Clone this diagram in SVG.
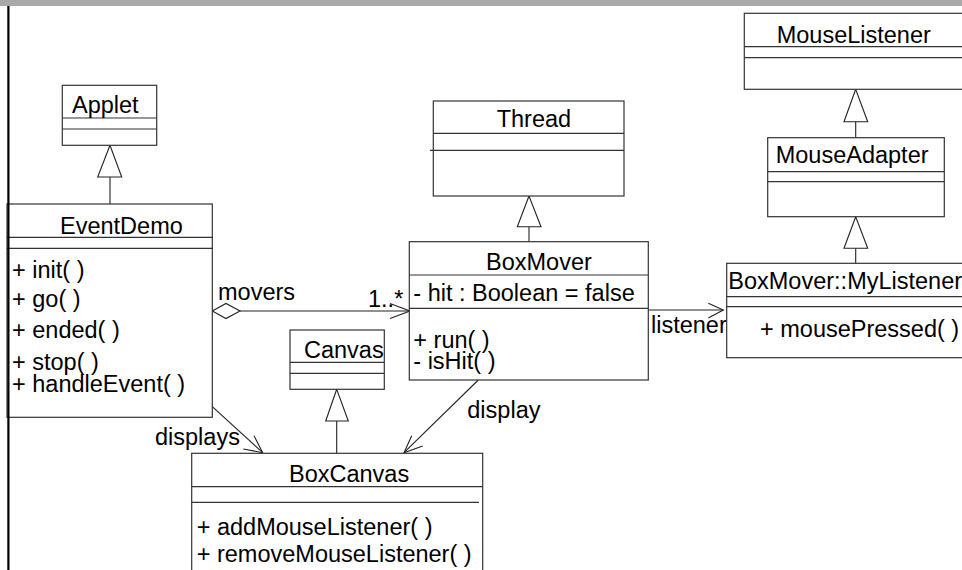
<svg xmlns="http://www.w3.org/2000/svg" width="962" height="570" viewBox="0 0 962 570">
<style>
.box{fill:#fff;stroke:#333;stroke-width:1.2}
.div{stroke:#333;stroke-width:1.2}
.t{font-family:"Liberation Sans",Arial,sans-serif;font-size:23.5px;fill:#000}
.ln{stroke:#222;stroke-width:1.1;fill:none}
.tri{fill:#fff;stroke:#222;stroke-width:1.1}
</style>
<rect x="0" y="0" width="962" height="570" fill="#fff"/>
<rect x="0" y="0" width="962" height="6" fill="#a9a9a9"/>

<g id="connectors">
  <!-- Applet <- EventDemo -->
  <line class="ln" x1="110" y1="177" x2="110" y2="204"/>
  <polygon class="tri" points="110,145.3 97.7,177 121.7,177"/>
  <!-- Thread <- BoxMover -->
  <line class="ln" x1="529" y1="226.7" x2="529" y2="241.7"/>
  <polygon class="tri" points="529,196 517.3,226.7 541,226.7"/>
  <!-- MouseListener <- MouseAdapter -->
  <line class="ln" x1="855.7" y1="121.7" x2="855.7" y2="137.7"/>
  <polygon class="tri" points="855.7,89.3 844,121.7 867.7,121.7"/>
  <!-- MouseAdapter <- MyListener -->
  <line class="ln" x1="855.7" y1="248.3" x2="855.7" y2="263.3"/>
  <polygon class="tri" points="855.7,216.7 844,248.3 867.7,248.3"/>
  <!-- Canvas <- BoxCanvas -->
  <line class="ln" x1="336.7" y1="421" x2="336.7" y2="453.3"/>
  <polygon class="tri" points="336.7,389.3 325.7,421 348.3,421"/>
  <!-- movers aggregation -->
  <line class="ln" x1="240" y1="311" x2="410" y2="311"/>
  <polygon class="tri" points="212.3,311 226,303.5 240,311 226,318.5"/>
  <polyline class="ln" points="390,303.5 410,311 390,318.5"/>
  <text class="t" x="218" y="300">movers</text>
  <text class="t" x="368" y="306.5">1..*</text>
  <!-- listener -->
  <line class="ln" x1="648.3" y1="310" x2="723.3" y2="310"/>
  <polyline class="ln" points="708.3,303.3 723.3,310 708.3,318"/>
  <text class="t" x="651" y="333.3">listener</text>
  <!-- displays -->
  <line class="ln" x1="212.3" y1="406.7" x2="262.7" y2="452.7"/>
  <polyline class="ln" points="243.3,449 262.7,452.7 254,435.7"/>
  <text class="t" x="155" y="445">displays</text>
  <!-- display -->
  <line class="ln" x1="478.3" y1="380" x2="404" y2="452.7"/>
  <polyline class="ln" points="422.7,446 404,452.7 411.7,435.7"/>
  <text class="t" x="467.3" y="418.3">display</text>
</g>

<g id="Applet">
  <rect class="box" x="62.3" y="85.3" width="94.4" height="60"/>
  <line class="div" x1="62.3" y1="118" x2="156.7" y2="118"/>
  <line class="div" x1="62.3" y1="129" x2="156.7" y2="129"/>
  <text class="t" x="72" y="113">Applet</text>
</g>

<g id="EventDemo">
  <rect class="box" x="7" y="204" width="205.3" height="213.3"/>
  <line class="div" x1="7" y1="237.3" x2="212.3" y2="237.3"/>
  <line class="div" x1="7" y1="248.3" x2="212.3" y2="248.3"/>
  <text class="t" x="60" y="234">EventDemo</text>
  <text class="t" x="12" y="278">+ init( )</text>
  <text class="t" x="12" y="307">+ go( )</text>
  <text class="t" x="12" y="337.5">+ ended( )</text>
  <text class="t" x="12" y="370">+ stop( )</text>
  <text class="t" x="12" y="392">+ handleEvent( )</text>
</g>

<g id="Thread">
  <rect class="box" x="433.3" y="101" width="190.7" height="95"/>
  <line class="div" x1="433.3" y1="133.3" x2="624" y2="133.3"/>
  <line class="div" x1="430" y1="150.3" x2="624" y2="150.3"/>
  <text class="t" x="496.7" y="126.7">Thread</text>
</g>

<g id="BoxMover">
  <rect class="box" x="409.3" y="241.7" width="239" height="138.3"/>
  <line class="div" x1="409.3" y1="275" x2="648.3" y2="275"/>
  <line class="div" x1="409.3" y1="308.3" x2="648.3" y2="308.3"/>
  <text class="t" x="486" y="270">BoxMover</text>
  <text class="t" x="413.3" y="301">- hit : Boolean = false</text>
  <text class="t" x="413.3" y="348.3">+ run( )</text>
  <text class="t" x="413.3" y="369.3">- isHit( )</text>
</g>

<g id="MouseListener">
  <rect class="box" x="744.3" y="13.3" width="230" height="76"/>
  <line class="div" x1="744.3" y1="46.7" x2="962" y2="46.7"/>
  <line class="div" x1="744.3" y1="57.7" x2="962" y2="57.7"/>
  <text class="t" x="776.7" y="42.7">MouseListener</text>
</g>

<g id="MouseAdapter">
  <rect class="box" x="767.7" y="137.7" width="176.6" height="79"/>
  <line class="div" x1="767.7" y1="171.7" x2="944.3" y2="171.7"/>
  <line class="div" x1="767.7" y1="181.7" x2="944.3" y2="181.7"/>
  <text class="t" x="775.7" y="163.3">MouseAdapter</text>
</g>

<g id="MyListener">
  <rect class="box" x="726.7" y="263.3" width="250" height="94.4"/>
  <line class="div" x1="726.7" y1="296.7" x2="962" y2="296.7"/>
  <line class="div" x1="726.7" y1="306.7" x2="962" y2="306.7"/>
  <text class="t" x="728.3" y="289.3">BoxMover::MyListener</text>
  <text class="t" x="760" y="337.3">+ mousePressed( )</text>
</g>

<g id="Canvas">
  <rect class="box" x="290" y="330" width="94.3" height="59.3"/>
  <line class="div" x1="290" y1="362.3" x2="384.3" y2="362.3"/>
  <line class="div" x1="290" y1="373.3" x2="384.3" y2="373.3"/>
  <text class="t" x="304" y="358.3">Canvas</text>
</g>

<g id="BoxCanvas">
  <rect class="box" x="191.7" y="453.3" width="291" height="140"/>
  <line class="div" x1="191.7" y1="486.7" x2="482.7" y2="486.7"/>
  <line class="div" x1="191.7" y1="502.3" x2="479" y2="502.3"/>
  <text class="t" x="289" y="481.7">BoxCanvas</text>
  <text class="t" x="196.7" y="535">+ addMouseListener( )</text>
  <text class="t" x="196.7" y="561.7">+ removeMouseListener( )</text>
</g>

<rect x="7.3" y="6" width="2.2" height="564" fill="#000"/>
</svg>
